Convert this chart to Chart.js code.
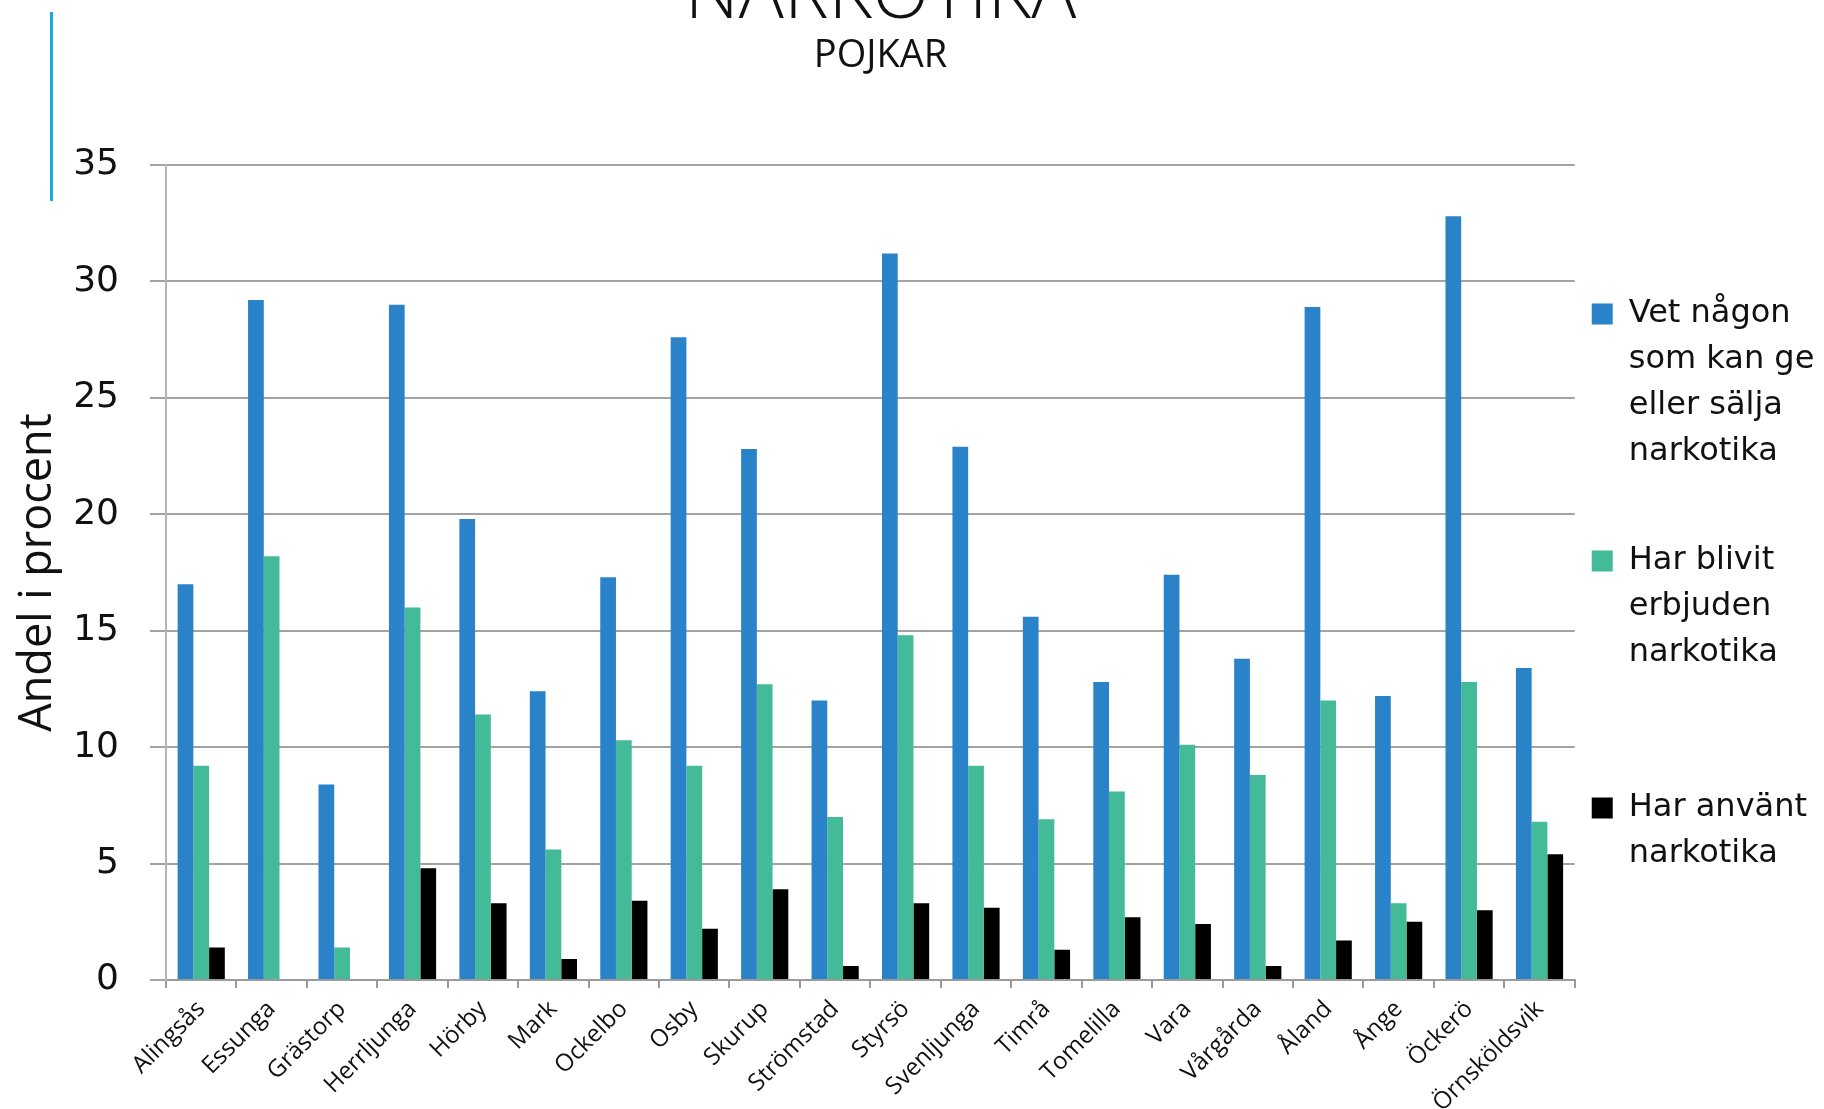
<!DOCTYPE html>
<html>
<head>
<meta charset="utf-8">
<title>Narkotika - pojkar</title>
<script src="https://cdn.jsdelivr.net/npm/chart.js@4/dist/chart.umd.min.js"></script>
<style>
  body { margin: 0; background: #fff; overflow: hidden; width: 1824px; height: 1109px; position: relative; }
  #accent { position: absolute; left: 50px; top: 12px; width: 3px; height: 189px; background: #1babe2; }
  /* canvas is a bit larger than the window so the slide title sits where it did */
  #wrap { position: absolute; left: -56px; top: -48px; width: 1880px; height: 1157px; }
</style>
</head>
<body>
<div id="accent"></div>
<div id="wrap"><canvas id="myChart"></canvas></div>
<script>
// kommuner (x axis)
var kommuner = ['Alingsås', 'Essunga', 'Grästorp', 'Herrljunga', 'Hörby', 'Mark', 'Ockelbo', 'Osby',
  'Skurup', 'Strömstad', 'Styrsö', 'Svenljunga', 'Timrå', 'Tomelilla', 'Vara', 'Vårgårda',
  'Åland', 'Ånge', 'Öckerö', 'Örnsköldsvik'];

// andel i procent
var vetNagon = [17.0, 29.2, 8.4, 29.0, 19.8, 12.4, 17.3, 27.6, 22.8, 12.0, 31.2, 22.9, 15.6, 12.8, 17.4, 13.8, 28.9, 12.2, 32.8, 13.4];
var erbjuden = [9.2, 18.2, 1.4, 16.0, 11.4, 5.6, 10.3, 9.2, 12.7, 7.0, 14.8, 9.2, 6.9, 8.1, 10.1, 8.8, 12.0, 3.3, 12.8, 6.8];
var anvant   = [1.4, null, null, 4.8, 3.3, 0.9, 3.4, 2.2, 3.9, 0.6, 3.3, 3.1, 1.3, 2.7, 2.4, 0.6, 1.7, 2.5, 3.0, 5.4];

var serieNamn = [
  ['Vet någon', 'som kan ge', 'eller sälja', 'narkotika'],
  ['Har blivit', 'erbjuden', 'narkotika'],
  ['Har använt', 'narkotika']
];
var yMin = 0, yMax = 35, yStep = 5;

var ctx = document.getElementById('myChart').getContext('2d');
var myChart = new Chart(ctx, {
  type: 'bar',
  data: {
    labels: kommuner,
    datasets: [
      { label: serieNamn[0], data: vetNagon, backgroundColor: '#2a83c8', borderWidth: 0 },
      { label: serieNamn[1], data: erbjuden, backgroundColor: '#43ba98', borderWidth: 0 },
      { label: serieNamn[2], data: anvant, backgroundColor: '#000000', borderWidth: 0 }
    ]
  },
  options: {
    responsive: true,
    maintainAspectRatio: false,
    animation: false,
    categoryPercentage: 0.67,
    barPercentage: 1.0,
    layout: { padding: { left: 0, top: 0, bottom: 0, right: 7 } },
    scales: {
      x: {
        afterFit: function (scale) { scale.height = 129; },
        border: { color: '#9b9b9b', width: 2 },
        grid: { display: true, drawOnChartArea: false, drawTicks: true, tickLength: 8, color: '#9b9b9b', lineWidth: 2 },
        ticks: {
          autoSkip: false, minRotation: 45, maxRotation: 45, padding: 7, color: '#111',
          font: { family: 'Open Sans', size: 24 }
        }
      },
      y: {
        min: yMin, max: yMax,
        afterFit: function (scale) { scale.width = 222; },
        border: { color: '#b4b4b4', width: 2 },
        grid: { color: '#a3a3a3', lineWidth: 2, tickLength: 16 },
        ticks: {
          stepSize: yStep, padding: 31, color: '#111',
          font: { family: 'DejaVu Sans', size: 36 }
        },
        title: {
          display: true, text: 'Andel i procent', color: '#111',
          font: { family: 'Open Sans', size: 45, lineHeight: 1 },
          padding: { top: 72, bottom: 0 }
        }
      }
    },
    plugins: {
      title: {
        display: true, text: 'NARKOTIKA', color: '#111',
        font: { family: 'Open Sans', size: 75, weight: 300, lineHeight: 1 },
        padding: { top: 7, bottom: 3 }
      },
      subtitle: {
        display: true, text: 'POJKAR', color: '#111',
        font: { family: 'Open Sans', size: 38, weight: 400, lineHeight: 1 },
        padding: { top: 0, bottom: 90 }
      },
      legend: {
        position: 'right',
        align: 'start',
        title: { display: true, text: '', font: { size: 10, lineHeight: 1 }, padding: { top: 319, bottom: 0 } },
        labels: {
          boxWidth: 21, boxHeight: 21, padding: 17, color: '#111',
          font: { family: 'DejaVu Sans', size: 32, lineHeight: 1.4375 },
          generateLabels: function (chart) {
            var items = Chart.defaults.plugins.legend.labels.generateLabels(chart);
            // extra empty rows to spread the entries like the original slide
            var extra = [1, 2, 0];
            items.forEach(function (it, i) {
              var t = it.text.slice();
              for (var k = 0; k < extra[i]; k++) t.push('');
              it.text = t;
              it.lineWidth = 0;
            });
            return items;
          }
        }
      },
      tooltip: { enabled: false }
    }
  }
});
</script>
</body>
</html>
